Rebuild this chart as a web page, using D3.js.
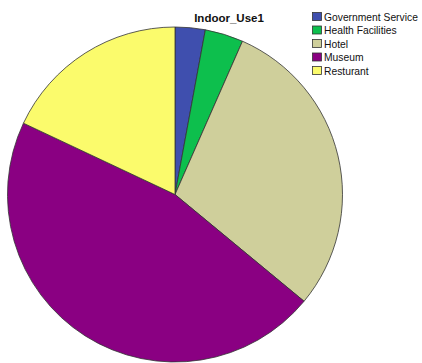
<!DOCTYPE html>
<html>
<head>
<meta charset="utf-8">
<script src="https://cdn.jsdelivr.net/npm/d3@7"></script>
<style>
  body { margin: 0; background: #fff; }
  svg { display: block; }
</style>
</head>
<body>
<svg id="chart" width="422" height="363"></svg>
<script>
// data (percent of total)
const categories = ['Government Service', 'Health Facilities', 'Hotel', 'Museum', 'Resturant'];
const values = [2.9, 3.7, 29.4, 46.0, 18.0];
const colors = ['#3f4fae', '#0dbf4d', '#cfcf9b', '#8a0082', '#fbfb6c'];
const title = 'Indoor_Use1';

const WIDTH = 422, HEIGHT = 363;
const CX = 175, CY = 194.5, RADIUS = 167.5;

const svg = d3.select('#chart');

const pie = d3.pie()
    .value(d => d.value)
    .sort(null);

const arc = d3.arc()
    .innerRadius(0)
    .outerRadius(RADIUS);

const data = categories.map((c, i) => ({name: c, value: values[i], color: colors[i]}));

const g = svg.append('g')
    .attr('transform', `translate(${CX}, ${CY})`);

g.selectAll('path')
    .data(pie(data))
    .join('path')
    .attr('d', arc)
    .attr('fill', d => d.data.color)
    .attr('stroke', '#333')
    .attr('stroke-width', 0.8)
    .attr('stroke-linejoin', 'round');

// title
svg.append('text')
    .attr('x', 229)
    .attr('y', 22)
    .attr('text-anchor', 'middle')
    .attr('font-family', 'Liberation Sans, Arial, sans-serif')
    .attr('font-weight', 'bold')
    .attr('font-size', 11.5)
    .attr('fill', '#111')
    .text(title);

// legend
const legend = svg.append('g')
    .attr('transform', 'translate(312, 12)');

const rows = legend.selectAll('g')
    .data(data)
    .join('g')
    .attr('transform', (d, i) => `translate(0, ${i * 13.5})`);

rows.append('rect')
    .attr('x', 0.5)
    .attr('y', 0.5)
    .attr('width', 9)
    .attr('height', 8)
    .attr('fill', d => d.color)
    .attr('stroke', '#333')
    .attr('stroke-width', 0.8);

rows.append('text')
    .attr('x', 12)
    .attr('y', 8.5)
    .attr('font-family', 'Liberation Sans, Arial, sans-serif')
    .attr('font-size', 10.3)
    .attr('fill', '#111')
    .text(d => d.name);
</script>
</body>
</html>
